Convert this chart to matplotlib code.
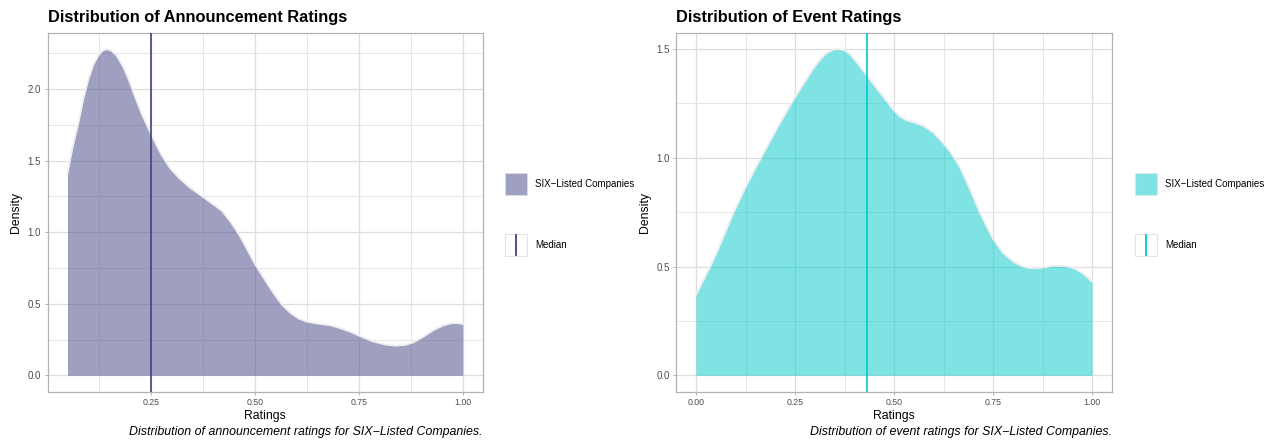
import matplotlib
matplotlib.use("Agg")
import matplotlib.pyplot as plt
from matplotlib.patches import Patch, Rectangle
from matplotlib.lines import Line2D
from matplotlib.legend_handler import HandlerBase
from matplotlib.ticker import MultipleLocator

plt.rcParams['font.family'] = ['Liberation Sans', 'DejaVu Sans']

# density curves (rating, density)
ann_x = [0.050, 0.062, 0.076, 0.088, 0.100, 0.112, 0.124, 0.134, 0.144, 0.156,
         0.168, 0.185, 0.196, 0.212, 0.228, 0.250, 0.276, 0.296, 0.316, 0.345,
         0.374, 0.400, 0.421, 0.440, 0.461, 0.480, 0.500, 0.525, 0.545, 0.565,
         0.585, 0.605, 0.625, 0.650, 0.681, 0.705, 0.729, 0.760, 0.785, 0.815,
         0.841, 0.862, 0.881, 0.905, 0.929, 0.950, 0.969, 0.985, 1.000]
ann_y = [1.41, 1.59, 1.76, 1.93, 2.065, 2.17, 2.235, 2.268, 2.28, 2.268,
         2.235, 2.15, 2.075, 1.95, 1.83, 1.69, 1.54, 1.45, 1.385, 1.31,
         1.25, 1.195, 1.15, 1.08, 0.99, 0.89, 0.78, 0.665, 0.575, 0.495,
         0.438, 0.397, 0.375, 0.362, 0.35, 0.33, 0.305, 0.265, 0.236, 0.214,
         0.207, 0.213, 0.23, 0.27, 0.315, 0.345, 0.362, 0.365, 0.359]
ann_median = 0.25

evt_x = [0.000, 0.044, 0.070, 0.094, 0.128, 0.170, 0.212, 0.251, 0.275, 0.296,
         0.315, 0.330, 0.345, 0.359, 0.375, 0.389, 0.410, 0.433, 0.458, 0.482,
         0.500, 0.515, 0.532, 0.555, 0.574, 0.600, 0.624, 0.645, 0.667, 0.692,
         0.717, 0.735, 0.751, 0.775, 0.801, 0.822, 0.843, 0.860, 0.877, 0.900,
         0.923, 0.945, 0.961, 0.980, 1.000]
evt_y = [0.37, 0.53, 0.64, 0.745, 0.876, 1.02, 1.16, 1.282, 1.35, 1.41,
         1.455, 1.482, 1.497, 1.50, 1.495, 1.476, 1.43, 1.374, 1.315, 1.259,
         1.218, 1.19, 1.172, 1.16, 1.147, 1.115, 1.068, 1.02, 0.955, 0.855,
         0.748, 0.68, 0.625, 0.562, 0.523, 0.502, 0.493, 0.493, 0.496, 0.503,
         0.504, 0.498, 0.486, 0.465, 0.43]
evt_median = 0.433

W, H = 1272, 445
fig = plt.figure(figsize=(W / 100, H / 100), dpi=100)


class MedianKey(HandlerBase):
    # white key box with a vertical line through the middle
    def create_artists(self, legend, orig_handle, xdescent, ydescent, width, height, fontsize, trans):
        box = Rectangle((-xdescent, -ydescent), width, height, facecolor='white',
                        edgecolor='#E4E4E8', lw=0.8, transform=trans)
        xm = -xdescent + width / 2
        line = Line2D([xm, xm], [-ydescent + 0.5, -ydescent + height - 0.5],
                      color=orig_handle.get_color(), lw=1.3, transform=trans)
        return [box, line]


def make_panel(left_px, right_px, xs, ys, med, base, title, caption, xticks, legend_x):
    ax = fig.add_axes([left_px / W, (H - 391.6) / H, (right_px - left_px) / W, (391.6 - 32.7) / H])
    ax.set_axisbelow(True)
    ax.fill_between(xs, 0, ys, color=base, alpha=0.5, linewidth=0, zorder=2)
    ax.plot(xs, ys, color='#EEEEF2', lw=1.3, zorder=3, solid_joinstyle='round')
    ax.axvline(med, color=base, lw=1.2, zorder=4)

    xr = max(xs) - min(xs)
    ax.set_xlim(min(xs) - 0.05 * xr, max(xs) + 0.05 * xr)
    yr = max(ys)
    ax.set_ylim(-0.05 * yr, 1.05 * yr)
    ax.set_xticks(xticks)
    ax.set_xticklabels(['%.2f' % t for t in xticks])
    ax.xaxis.set_minor_locator(MultipleLocator(0.125))
    ax.yaxis.set_major_locator(MultipleLocator(0.5))
    ax.yaxis.set_minor_locator(MultipleLocator(0.25))
    ax.yaxis.set_major_formatter(matplotlib.ticker.FormatStrFormatter('%.1f'))
    ax.grid(True, which='major', color='#DEDEDE', lw=0.9)
    ax.grid(True, which='minor', color='#E6E6E6', lw=0.7)
    for s in ax.spines.values():
        s.set_color('#B3B3B3')
        s.set_linewidth(0.9)
    ax.tick_params(which='major', length=2.2, width=0.7, color='#B3B3B3', labelcolor='#4D4D4D', pad=2.5)
    ax.tick_params(axis='x', labelsize=6.3)
    ax.tick_params(axis='y', labelsize=7)
    ax.tick_params(which='minor', length=0)

    ax.set_xlabel('Ratings', fontsize=8.8, labelpad=2)
    ax.set_ylabel('Density', fontsize=8.8, labelpad=4)
    ax.set_title(title, loc='left', fontsize=11.8, fontweight='bold', pad=7.5)
    fig.text(right_px / W, 10 / H, caption, ha='right', va='baseline',
             fontsize=8.9, style='italic')

    med_handle = Line2D([], [], color=base)
    handles = [Patch(facecolor=base, alpha=0.5, edgecolor='#E4E4E8', lw=0.8), med_handle]
    fig.legend(handles, ['SIX\u2212Listed Companies', 'Median'], loc='upper left',
               bbox_to_anchor=(legend_x / W, 1 - 173 / H), bbox_transform=fig.transFigure,
               handler_map={med_handle: MedianKey()},
               frameon=False, fontsize=7, handlelength=2.26, handleheight=3.1,
               handletextpad=0.8, labelspacing=4.0, borderpad=0, borderaxespad=0)
    return ax


make_panel(47.7, 482.5, ann_x, ann_y, ann_median, '#414181',
           'Distribution of Announcement Ratings',
           'Distribution of announcement ratings for SIX\u2212Listed Companies.',
           [0.25, 0.50, 0.75, 1.00], 505)
make_panel(676.2, 1111.8, evt_x, evt_y, evt_median, '#00C9C9',
           'Distribution of Event Ratings',
           'Distribution of event ratings for SIX\u2212Listed Companies.',
           [0.00, 0.25, 0.50, 0.75, 1.00], 1135)

plt.savefig('out.png', dpi=100)
